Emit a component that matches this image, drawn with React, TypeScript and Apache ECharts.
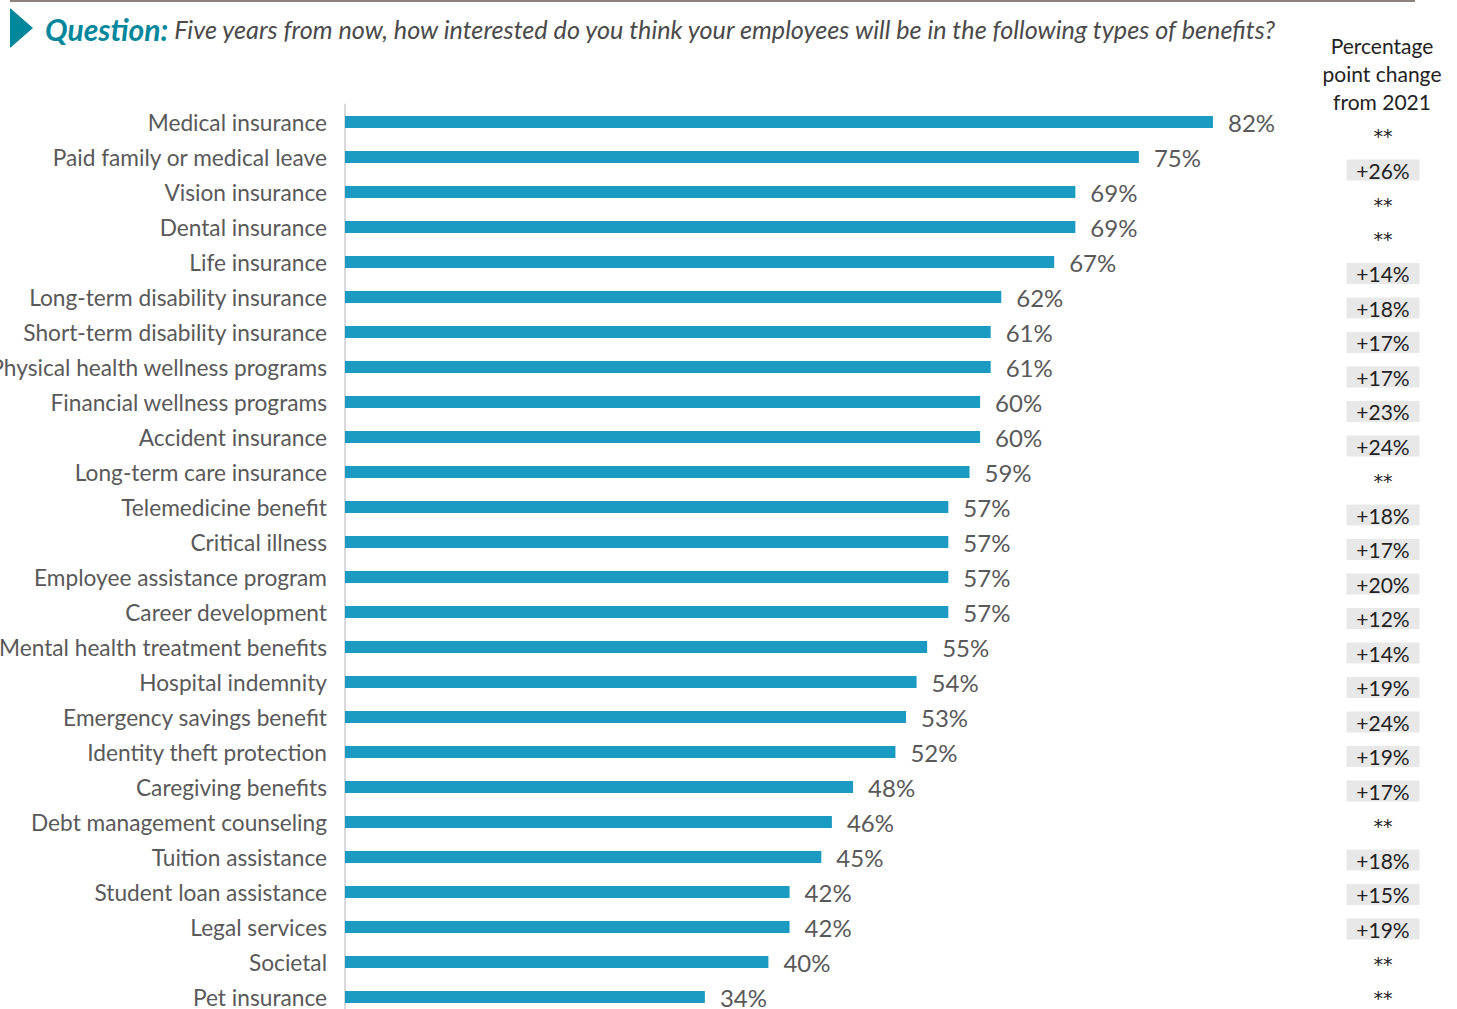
import React, { useEffect, useRef } from "react";
import * as echarts from "echarts";

const categories = [
  "Medical insurance",
  "Paid family or medical leave",
  "Vision insurance",
  "Dental insurance",
  "Life insurance",
  "Long-term disability insurance",
  "Short-term disability insurance",
  "Physical health wellness programs",
  "Financial wellness programs",
  "Accident insurance",
  "Long-term care insurance",
  "Telemedicine benefit",
  "Critical illness",
  "Employee assistance program",
  "Career development",
  "Mental health treatment benefits",
  "Hospital indemnity",
  "Emergency savings benefit",
  "Identity theft protection",
  "Caregiving benefits",
  "Debt management counseling",
  "Tuition assistance",
  "Student loan assistance",
  "Legal services",
  "Societal",
  "Pet insurance",
];

const values = [82, 75, 69, 69, 67, 62, 61, 61, 60, 60, 59, 57, 57, 57, 57, 55, 54, 53, 52, 48, 46, 45, 42, 42, 40, 34];

const changes = [
  "**", "+26%", "**", "**", "+14%", "+18%", "+17%", "+17%", "+23%", "+24%",
  "**", "+18%", "+17%", "+20%", "+12%", "+14%", "+19%", "+24%", "+19%", "+17%",
  "**", "+18%", "+15%", "+19%", "**", "**",
];

const titleLead = "Question:";
const titleText = " Five years from now, how interested do you think your employees will be in the following types of benefits?";
const sideHeader = "Percentage\npoint change\nfrom 2021";

const FONT = "Lato, 'Noto Sans', sans-serif";

export default function App() {
  const ref = useRef<HTMLDivElement>(null);
  useEffect(() => {
    if (!ref.current) return;
    const chart = echarts.init(ref.current, undefined, { renderer: "svg" });
    chart.setOption({
      animation: false,
      backgroundColor: "#ffffff",
      textStyle: { fontFamily: FONT },
      grid: [
        { left: 345, top: 104.5, width: 1058.5, height: 910, containLabel: false, outerBoundsMode: "none" },
        { left: 1383, top: 118.25, width: 1, height: 897, containLabel: false, outerBoundsMode: "none" },
      ],
      xAxis: [
        { type: "value", min: 0, max: 100, show: false, gridIndex: 0 },
        { type: "value", min: 0, max: 1, show: false, gridIndex: 1 },
      ],
      yAxis: [
        {
          type: "category",
          gridIndex: 0,
          data: categories,
          inverse: true,
          axisLine: { show: true, lineStyle: { color: "#d9d9d9", width: 2 } },
          axisTick: { show: false },
          axisLabel: {
            interval: 0,
            margin: 18,
            fontSize: 22.7,
            color: "#595959",
            fontFamily: FONT,
            padding: [0, 0, 3, 0],
          },
        },
        {
          type: "category",
          gridIndex: 1,
          data: categories,
          inverse: true,
          axisLine: { show: false },
          axisTick: { show: false },
          axisLabel: {
            interval: 0,
            margin: 0,
            align: "center",
            formatter: (_v: string, i: number) =>
              changes[i] === "**" ? "{s|" + changes[i] + "}" : "{b|" + changes[i] + "}",
            rich: {
              s: { fontSize: 19, color: "#222222", fontFamily: "'DejaVu Sans', sans-serif" },
              b: {
                fontSize: 21,
                color: "#222222",
                fontFamily: FONT,
                backgroundColor: "#e8e8e8",
                width: 73,
                height: 21,
                align: "center",
              },
            },
          },
        },
      ],
      series: [
        {
          type: "bar",
          xAxisIndex: 0,
          yAxisIndex: 0,
          data: values,
          barWidth: 12,
          itemStyle: { color: "#1c9bc2" },
          label: {
            show: true,
            position: "right",
            distance: 15,
            formatter: "{c}%",
            fontSize: 24,
            color: "#595959",
            fontFamily: FONT,
          },
        },
      ],
      graphic: [
        {
          type: "line",
          shape: { x1: 10, y1: 1, x2: 1415, y2: 1 },
          style: { stroke: "#8c8279", lineWidth: 2 },
        },
        {
          type: "polygon",
          shape: { points: [[10, 8], [33, 28], [10, 48]] },
          style: { fill: "#00879b" },
        },
        {
          type: "text",
          x: 45,
          y: 29,
          style: {
            text: "{q|" + titleLead + "}{t|" + titleText + "}",
            verticalAlign: "middle",
            rich: {
              q: { fontSize: 30, fontWeight: "bold", fontStyle: "italic", fill: "#00879b", fontFamily: FONT },
              t: { fontSize: 25.2, fontStyle: "italic", fill: "#4a4a4a", fontFamily: FONT },
            },
          },
        },
        {
          type: "text",
          x: 1382,
          y: 31,
          style: {
            text: sideHeader,
            align: "center",
            fontSize: 21,
            lineHeight: 28,
            fill: "#222222",
            fontFamily: FONT,
          },
        },
      ],
    });
    return () => chart.dispose();
  }, []);
  return (
    <div style={{ position: "absolute", left: 0, top: 0, width: 1457, height: 1009, overflow: "hidden" }}>
      <div ref={ref} style={{ width: 1457, height: 1040 }} />
    </div>
  );
}
